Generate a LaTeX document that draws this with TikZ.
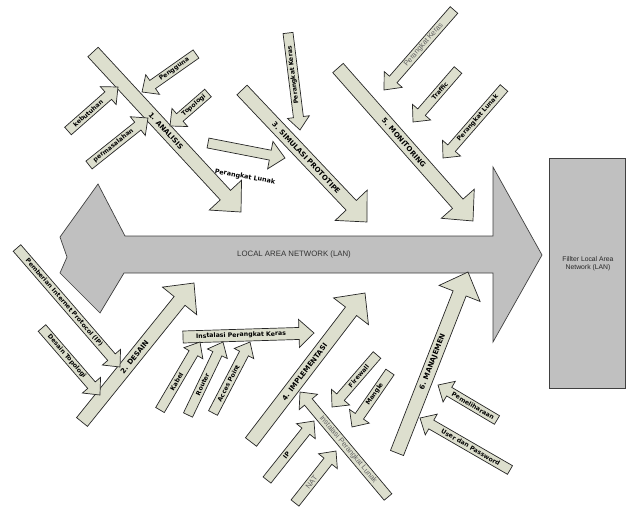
\documentclass[tikz,border=0pt]{standalone}
\usepackage{fontspec}
\setmainfont{Liberation Sans}
\newfontfamily\lblfont{DejaVu Sans}
\definecolor{bonefill}{RGB}{221,223,206}
\definecolor{maingray}{RGB}{192,192,192}
\tikzset{
  bone/.style={draw=black!85, line width=0.7pt, fill=bonefill, line join=miter},
  lbl/.style={font=\lblfont\bfseries\fontsize{6.2}{7}\selectfont, inner sep=0pt},
  bigl/.style={font=\lblfont\bfseries\fontsize{7}{8}\selectfont},
  glab/.style={font=\fontsize{7.4}{8}\selectfont, text=black!62},
}
% tail x, tail y, tip x, tip y, shaft half width, head half width, head length, label, label options
\newcommand{\barr}[9]{%
  \pgfmathsetmacro\bdx{#3-#1}%
  \pgfmathsetmacro\bdy{#2-#4}%
  \pgfmathsetmacro\bang{atan2(\bdy,\bdx)}%
  \pgfmathsetmacro\blen{veclen(\bdx,\bdy)}%
  \pgfmathsetmacro\bbase{\blen-#7}%
  \pgfmathsetmacro\bmid{\bbase/2}%
  \pgfmathsetmacro\btang{abs(\bang)>90 ? \bang+180 : \bang}%
  \begin{scope}[shift={(#1,#2)}, rotate=\bang]
    \draw[bone] (0,-#5) -- (\bbase,-#5) -- (\bbase,-#6) -- (\blen,0) -- (\bbase,#6) -- (\bbase,#5) -- (0,#5) -- cycle;
    \node[lbl, rotate=\btang, #9] at (\bmid,0) {#8};
  \end{scope}}
\begin{document}
\begin{tikzpicture}[x=1pt, y=-1pt]
\useasboundingbox (0,0) rectangle (629,509);
% main spine
\draw[draw=black!75, line width=0.7pt, fill=maingray]
  (98,184) -- (125,236) -- (493,236) -- (493,167) -- (542,255) -- (493,342)
  -- (493,273) -- (124,273) -- (100,313) -- (60,273) -- (67,257) -- (60,237) -- cycle;
\node[font=\fontsize{7.8}{9}\selectfont, text=black!80] (lan) at (294,254) {LOCAL AREA NETWORK (LAN)};
% effect box
\draw[draw=black!75, line width=0.7pt, fill=maingray] (549,158) rectangle (625,388);
\node[font=\fontsize{6.8}{8}\selectfont, text=black!85, align=center] (filter) at (588,264) {Fillter Local Area\\Network (LAN)};
% horizontal helper arrow
\barr{183}{337}{314}{333}{6}{14}{15}{Instalasi Perangkat Keras}{name=s12}
% main bones
\barr{93}{52}{241}{212}{7}{22}{23}{1. ANALISIS}{name=t1, bigl, xshift=10pt}
\barr{242}{90}{367}{222}{7}{22}{23}{3. SIMULASI PROTOTIPE}{name=t3, bigl, xshift=14pt}
\barr{338}{68}{473}{221}{7}{22}{23}{5. MONITORING}{name=t5, bigl, xshift=9pt}
\barr{82}{422}{194}{283}{7}{22}{23}{2. DESAIN}{name=t2, bigl, xshift=6pt}
\barr{251}{442}{365}{293}{7}{22}{23}{4. IMPLEMENTASI}{name=t4, bigl, xshift=6pt}
\barr{397}{453}{468}{272}{7}{22}{23}{6. MANAJEMEN}{name=t6, bigl, xshift=12pt}
% analisis causes
\barr{196}{54}{142}{92}{5}{12}{13}{Pengguna}{name=s1}
\barr{208}{93}{170}{126}{5}{12}{13}{Topologi}{name=s2}
\barr{68}{131}{118}{87}{5}{12}{13}{kebutuhan}{name=s3}
\barr{89}{165}{148}{118}{5}{12}{13}{permasalahan}{name=s4}
\barr{208}{143}{285}{158}{5}{14}{15}{}{name=s5}
\node[lbl, font=\lblfont\bfseries\fontsize{6.4}{7}\selectfont, rotate=-10] (pl1) at (245,177) {Perangkat Lunak};
% simulasi cause
\barr{288}{33}{300}{130}{5}{11}{13}{Perangkat Keras}{name=s6, rotate=180}
% monitoring causes
\barr{454}{10}{384}{90}{5}{12}{14}{Perangkat Keras}{name=s7, glab}
\barr{458}{70}{413}{122}{5}{12}{13}{Traffic}{name=s8}
\barr{504}{88}{443}{158}{5}{12}{13}{Perangkat Lunak}{name=s9}
% desain causes
\barr{17}{248}{120}{367}{5}{12}{13}{Pemberian Internet Protocol (IP)}{name=s10}
\barr{42}{328}{100}{395}{5}{12}{13}{Desain Topologi}{name=s11}
% hardware installation causes
\barr{160}{410}{200}{342}{5}{11}{13}{Kabel}{name=s13}
\barr{188}{415}{223}{342}{5}{11}{13}{Router}{name=s14}
\barr{213}{413}{250}{342}{5}{11}{13}{Acces Point}{name=s15}
% implementasi causes
\barr{377}{355}{332}{407}{5}{12}{13}{Firewall}{name=s16}
\barr{390}{372}{352}{427}{5}{12}{13}{Mangle}{name=s17}
\barr{388}{497}{300}{392}{5}{12}{13}{Instalasi Perangkat Lunak}{name=s20, glab}
\barr{267}{480}{314}{421}{5}{12}{13}{IP}{name=s18}
\barr{295}{503}{336}{451}{5}{12}{13}{NAT}{name=s19, glab}
% manajemen causes
\barr{497}{420}{438}{385}{5}{12}{13}{Pemeliharaan}{name=s21}
\barr{510}{470}{420}{418}{5}{12}{13}{User dan Password}{name=s22}
\end{tikzpicture}
\end{document}
